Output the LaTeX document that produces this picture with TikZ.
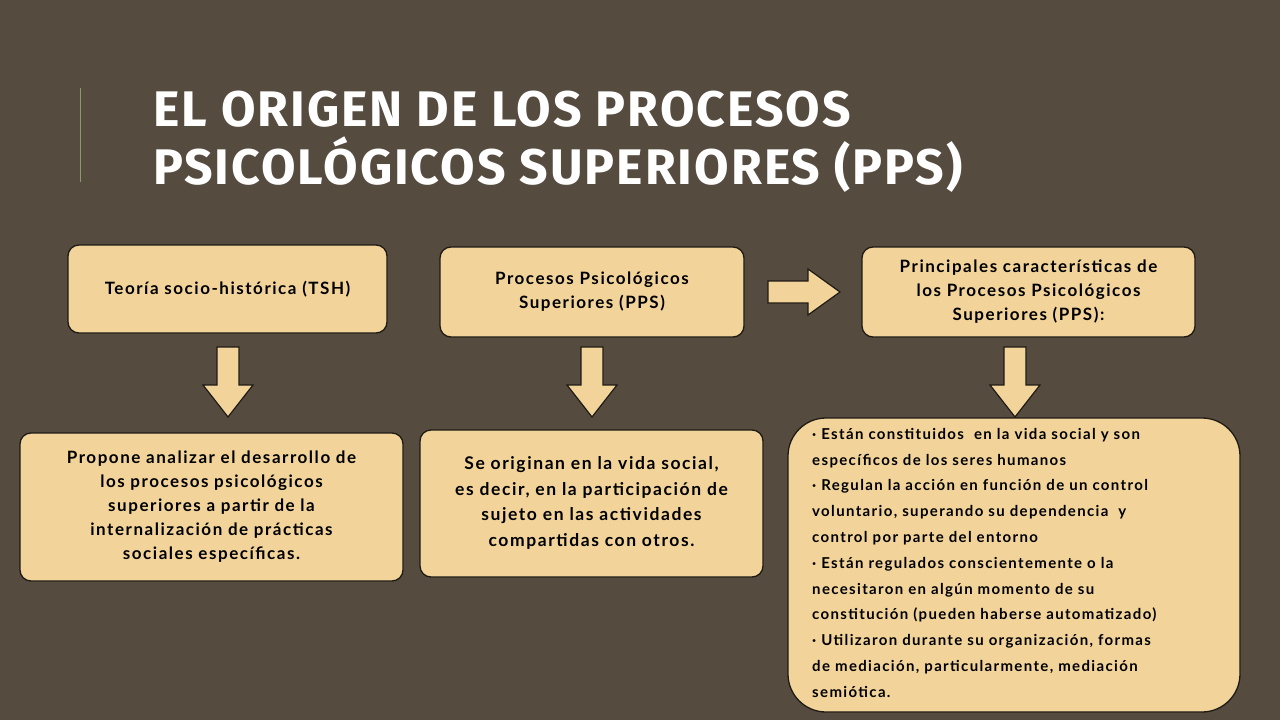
\documentclass[tikz,border=0pt]{standalone}
\usepackage{fontspec}
\setmainfont{Lato}[LetterSpace=9]
\newfontfamily\titlefont{Fira Sans}[LetterSpace=4]
\newfontfamily\smallfont{Lato}[LetterSpace=9]
\usetikzlibrary{shapes.arrows}
\definecolor{bg}{HTML}{564B3F}
\definecolor{boxfill}{HTML}{F2D49B}
\definecolor{edge}{HTML}{1E1A14}
\definecolor{vline}{HTML}{8A9A6A}
\tikzset{
 box/.style={draw=edge,line width=1.3pt,fill=boxfill,rounded corners=11pt,inner sep=0pt},
 btext/.style={font=\fontsize{17}{24}\selectfont\bfseries,align=center,text=black},
 darrow/.style={draw=edge,line width=1.2pt,fill=boxfill},
}
\begin{document}
\begin{tikzpicture}[x=1pt,y=-1pt]
\fill[bg] (0,0) rectangle (1280,720);
\useasboundingbox (0,0) rectangle (1280,720);
\draw[vline,line width=1pt] (80,88) -- (80,182);
\node[anchor=west,text=white,font=\titlefont\fontsize{50}{58}\selectfont\bfseries,align=left,inner sep=0pt] (title) at (153,142) {EL ORIGEN DE LOS PROCESOS\\PSICOLÓGICOS SUPERIORES (PPS)};
% top boxes
\draw[box] (68,245) rectangle (387,333);
\node[btext] (t1) at (227.5,289) {Teoría socio-histórica (TSH)};
\draw[box] (440,247) rectangle (744,337);
\node[btext] (t2) at (592,292) {Procesos Psicológicos\\Superiores (PPS)};
\draw[box] (862,247) rectangle (1195,337);
\node[btext] (t3) at (1028.5,292) {Principales características de\\los Procesos Psicológicos\\Superiores (PPS):};
% arrows
\foreach \cx in {228,592,1015}{
 \draw[darrow] (\cx-11,347) -- (\cx+11,347) -- (\cx+11,385) -- (\cx+25,385) -- (\cx,417) -- (\cx-25,385) -- (\cx-11,385) -- cycle;
}
\draw[darrow] (768,281) -- (808,281) -- (808,269) -- (840,292) -- (808,315) -- (808,303) -- (768,303) -- cycle;
% bottom boxes
\draw[box] (20,433) rectangle (403,581);
\node[btext] (b1) at (211.5,507) {Propone analizar el desarrollo de\\los procesos psicológicos\\superiores a partir de la\\internalización de prácticas\\sociales específicas.};
\draw[box] (420,430) rectangle (763,577);
\node[btext,font=\fontsize{17.5}{25.5}\selectfont\bfseries] (b2) at (591.5,503) {Se originan en la vida social,\\es decir, en la participación de\\sujeto en las actividades\\compartidas con otros.};
\draw[box,rounded corners=38pt] (788,418) rectangle (1240,712);
\node[anchor=north west,align=left,inner sep=0pt,font=\fontsize{15}{25.8}\selectfont\bfseries] (b3) at (812,428) {· Están constituidos\ \ en la vida social\ y son\\específicos de los seres humanos\\· Regulan\ la acción en función de un control\\voluntario,\ superando su dependencia\ \ y\\control por parte del entorno\\· Están regulados\ conscientemente\ o la\\necesitaron en algún momento de su\\constitución\ (pueden haberse automatizado)\\· Utilizaron durante su organización,\ formas\\de mediación, particularmente,\ mediación\\semiótica.};
\end{tikzpicture}
\end{document}
